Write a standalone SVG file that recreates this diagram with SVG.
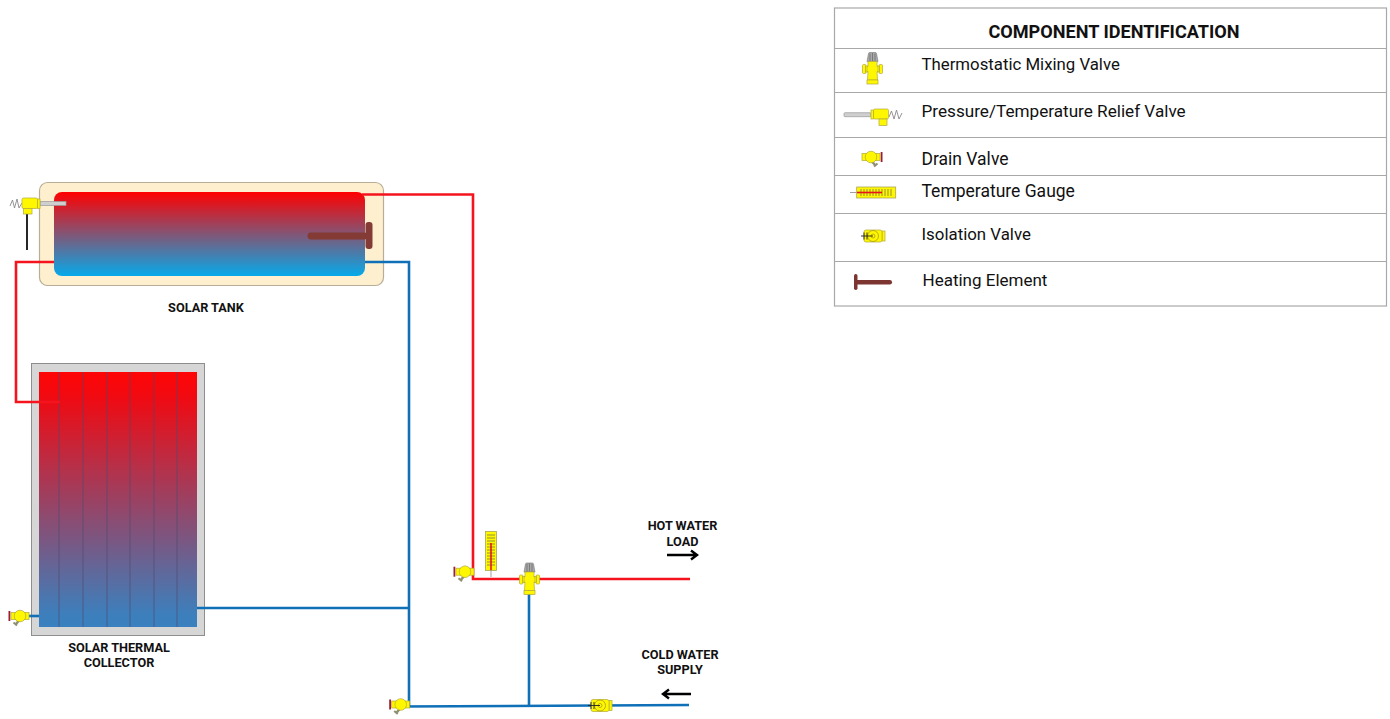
<svg xmlns="http://www.w3.org/2000/svg" xmlns:xlink="http://www.w3.org/1999/xlink" width="1390" height="719" viewBox="0 0 1390 719">
<style>
text{font-family:Roboto,"Liberation Sans",sans-serif;fill:#111}
.lab{font-size:12.7px;font-weight:700;text-anchor:middle}
.leg{font-size:17.15px}
.pipe{fill:none;stroke-width:2.6}
.red{stroke:#f5141e}
.blue{stroke:#0f70b8}
.rule{stroke:#a8a8a8;stroke-width:1.2}
.y{fill:#fff700;stroke:#b3a93a;stroke-width:.7}
.arr{fill:none;stroke:#000;stroke-width:2.4}
.tick{stroke:#665;stroke-width:.7}
.zig{fill:none;stroke:#888;stroke-width:.9}
</style>
<defs>
<linearGradient id="gT" x1="0" y1="0" x2="0" y2="1"><stop offset="0" stop-color="#ff0000"/><stop offset="1" stop-color="#06aaea"/></linearGradient>
<linearGradient id="gC" x1="0" y1="0" x2="0" y2="1"><stop offset="0" stop-color="#ff0505"/><stop offset=".1" stop-color="#f00a12"/><stop offset=".95" stop-color="#3d7fbc"/><stop offset="1" stop-color="#3a80bf"/></linearGradient>
<g id="drain">
<rect x="-11.500" y="-5" width="1.800" height="10" fill="#a01c36"/>
<rect x="-9" y="-3.500" width="6" height="7" class="y"/>
<rect x="4" y="-3.500" width="5" height="7" class="y"/>
<path d="M-1 4.500l-3 3.500" stroke="#8f8f70" stroke-width="2.500" fill="none"/>
<path d="M-6.500 6.500l3.500 3" stroke="#8f8f70" stroke-width="2" fill="none"/>
<circle cx="0" cy="0" r="5.800" class="y"/>
</g>
<g id="tmv">
<path d="M-5.500 -7.500l1.500 -8q.3 -1 1 -1h6q.7 0 1 1l1.500 8z" fill="#a9a9a9" stroke="#777" stroke-width=".6"/>
<path d="M-2.500 -15.500v8M0 -16v8M2.500 -15.500v8" stroke="#666" stroke-width=".7"/>
<rect x="-10" y="-4.500" width="3.500" height="9" rx="1" class="y"/>
<rect x="6.500" y="-4.500" width="3.500" height="9" rx="1" class="y"/>
<rect x="-7" y="-3" width="14" height="6" class="y"/>
<path d="M-4.500 -7.500h9v5h1v5h-1l.5 8.500h-10l.5 -8.500h-1v-5h1z" class="y"/>
<rect x="-5.500" y="11" width="11" height="4" class="y"/>
</g>
<g id="iso">
<rect x="9" y="-5" width="3" height="10" class="y"/>
<rect x="-9" y="-6" width="18" height="12" rx="2" class="y"/>
<circle cx="0" cy="0" r="5.500" fill="none" stroke="#a89c20" stroke-width=".8"/>
<circle cx="0" cy="0" r="2" fill="none" stroke="#a89c20" stroke-width=".8"/>
<path d="M-12 0H0M-9 -3.500v7M-6 -3.500v7" stroke="#222" stroke-width=".9"/>
</g>
</defs>

<g id="solar-tank">
<rect x="39.500" y="182.500" width="344" height="103" rx="8" fill="#fef0cf" stroke="#b8ae98" stroke-width="1.200"/>
<rect x="54" y="192" width="311" height="84" rx="8" fill="url(#gT)"/>
<rect x="307.500" y="232.500" width="60" height="7" rx="3.400" fill="#843a35"/>
<rect x="365.500" y="222" width="7" height="27" rx="3" fill="#843a35"/>
<text class="lab" x="206" y="312">SOLAR TANK</text>
</g>

<g id="solar-collector">
<rect x="31.500" y="363.500" width="173" height="272" fill="#d6d6d6" stroke="#8e8e8e" stroke-width="1"/>
<rect x="39" y="372" width="158" height="255" fill="url(#gC)"/>
<path d="M59 372V627M83 372V627M107 372V627M130 372V627M154 372V627M177 372V627" stroke="#4e4a70" stroke-opacity=".55" stroke-width="1.200"/>
<text class="lab" x="119" y="652">SOLAR THERMAL</text>
<text class="lab" x="119" y="667">COLLECTOR</text>
</g>

<g id="connectors">
<path class="pipe red" d="M362 194.500H473V579H690"/>
<path class="pipe red" d="M54 262H16V402H60"/>
<path class="pipe blue" d="M365 262H409V706"/>
<path class="pipe blue" d="M197 608H409"/>
<path class="pipe blue" d="M400 706.500L689 705"/>
<path class="pipe blue" d="M529 590V705"/>
<path class="pipe blue" d="M26 616H39"/>
<path d="M27 212V250" fill="none" stroke="#000" stroke-width="1.700"/>
</g>

<g id="relief-valve">
<rect x="40" y="201.500" width="26" height="4" fill="#cfcfcf" stroke="#999" stroke-width=".7"/>
<path class="zig" d="M10 206l2.500 -6 2 8 2.500 -9 2 9 3 -5"/>
<rect x="37.500" y="199" width="2.500" height="9.500" class="y"/>
<rect x="22" y="198" width="15.500" height="10.500" rx="1.500" class="y"/>
<rect x="23.500" y="208.500" width="8.500" height="5.500" class="y"/>
</g>

<g id="drain-valve-collector"><use xlink:href="#drain" transform="translate(20 616)"/></g>
<g id="drain-valve-supply"><use xlink:href="#drain" transform="translate(400.700 704.500)"/></g>
<g id="drain-valve-load"><use xlink:href="#drain" transform="translate(465 571.700)"/></g>

<g id="temperature-gauge">
<rect x="485.500" y="531.500" width="11" height="39" fill="#fff700" stroke="#a8a55a" stroke-width=".8"/>
<path class="tick" d="M487 535h8M487 538h8M487 541h8M487 544h8M487 547h8M487 550h8M487 553h8M487 556h8M487 559h8M487 562h8M487 565h8"/>
<path d="M491 543V570" stroke="#e8141e" stroke-width="1.600"/>
<path d="M491 570V577" stroke="#888" stroke-width=".8"/>
</g>

<g id="mixing-valve"><use xlink:href="#tmv" transform="translate(529.500 579.500)"/></g>
<g id="isolation-valve"><use xlink:href="#iso" transform="translate(600 705.500)"/></g>

<g id="hot-water-load">
<text class="lab" x="682.500" y="530">HOT WATER</text>
<text class="lab" x="682.500" y="546">LOAD</text>
<path class="arr" d="M667 555H696M691 550.500L697 555L691 559.500"/>
</g>
<g id="cold-water-supply">
<text class="lab" x="680" y="659">COLD WATER</text>
<text class="lab" x="680" y="674">SUPPLY</text>
<path class="arr" d="M691 694H664M669 689.500L663 694L669 698.500"/>
</g>

<g id="legend">
<rect x="834.500" y="8" width="552" height="298" fill="#fff" stroke="#a8a8a8" stroke-width="1.200"/>
<path class="rule" d="M835 48.500H1387M835 92.500H1387M835 137.500H1387M835 175.500H1387M835 213.500H1387M835 261.500H1387"/>
<text x="1114" y="37.500" font-size="18.100" font-weight="700" text-anchor="middle">COMPONENT IDENTIFICATION</text>
<text class="leg" x="921.500" y="70" font-size="16.800" style="font-size:16.8px">Thermostatic Mixing Valve</text>
<text class="leg" x="921.500" y="117">Pressure/Temperature Relief Valve</text>
<text class="leg" x="921.500" y="165" style="font-size:17.5px">Drain Valve</text>
<text class="leg" x="921.500" y="197" style="font-size:17.5px">Temperature Gauge</text>
<text class="leg" x="921.500" y="240" style="font-size:16.85px">Isolation Valve</text>
<text class="leg" x="922.500" y="286" style="font-size:17px">Heating Element</text>
<use xlink:href="#tmv" transform="translate(872.500 69)"/>
<g>
<rect x="844" y="112.700" width="27" height="4" rx="1" fill="#cfcfcf" stroke="#999" stroke-width=".7"/>
<path class="zig" d="M889 117l2.500 -6 2.500 8 2.500 -9 2.500 9 3 -6"/>
<rect x="871" y="110" width="2.500" height="9" class="y"/>
<rect x="873.500" y="109" width="15" height="10" rx="1.500" class="y"/>
<rect x="879" y="119" width="8" height="6.500" class="y"/>
</g>
<use xlink:href="#drain" transform="matrix(-1 0 0 1 871 157)"/>
<g>
<path d="M850 192.500H896" stroke="#888" stroke-width=".8"/>
<rect x="856.700" y="187" width="39" height="11" fill="#fff700" stroke="#a8a55a" stroke-width=".8"/>
<path class="tick" d="M861 189v7M864 189v7M867 189v7M870 189v7M873 189v7M876 189v7M879 189v7M882 189v7M885 189v7M888 189v7M891 189v7"/>
<path d="M857 192.500H882" stroke="#e8141e" stroke-width="1.600"/>
</g>
<use xlink:href="#iso" transform="translate(873 236)"/>
<g fill="#7c3530"><rect x="855" y="280" width="37" height="4.500" rx="2.200"/><rect x="854" y="274" width="3.500" height="16" rx="1.700"/></g>
</g>
</svg>
